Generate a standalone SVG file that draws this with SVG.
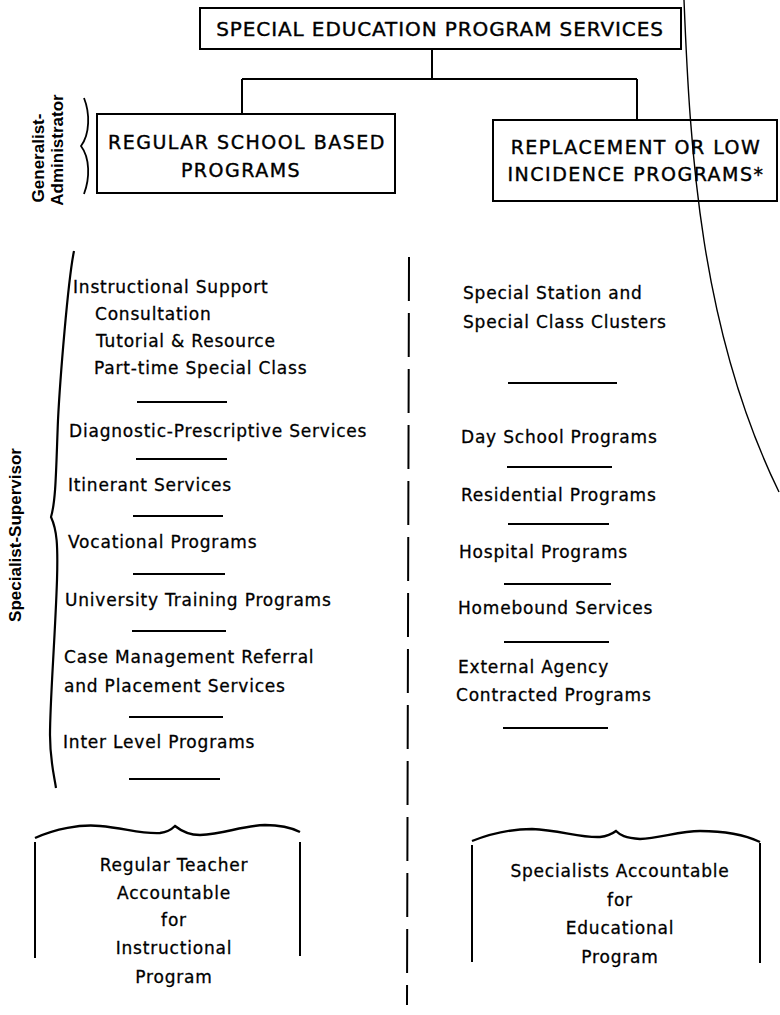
<svg xmlns="http://www.w3.org/2000/svg" width="780" height="1015" viewBox="0 0 780 1015">
<style>
.box{fill:none;stroke:#000;stroke-width:2}
.ln{fill:none;stroke:#000;stroke-width:2}
.hd{font-family:"DejaVu Sans","Liberation Sans",sans-serif;font-size:19px;letter-spacing:1.5px;fill:#000;stroke:#000;stroke-width:0.4}
.tx{font-family:"DejaVu Sans","Liberation Sans",sans-serif;font-size:17px;letter-spacing:0.8px;fill:#000;stroke:#000;stroke-width:0.3}
.mid{text-anchor:middle}
.lab{font-family:"Liberation Sans",sans-serif;font-weight:bold;font-size:17px;fill:#000;text-anchor:middle}
.sep{stroke:#000;stroke-width:2}
</style>
<rect width="780" height="1015" fill="#fff"/>

<g id="connectors">
  <path class="ln" d="M432 49 V79 M242 79 H637 M242 79 V114 M637 79 V120"/>
  <path class="ln" d="M409 257 L407 1005" stroke-dasharray="44 12" stroke-width="2.4"/>
  <path fill="none" stroke="#000" stroke-width="1.4" d="M684 0 C690 150 700 330 779 492"/>
</g>

<g id="top">
  <rect class="box" x="200" y="8" width="481" height="41"/>
  <text class="hd mid" x="440" y="36" style="font-size:20px;letter-spacing:0.9px">SPECIAL EDUCATION PROGRAM SERVICES</text>
</g>

<g id="regular">
  <rect class="box" x="97" y="114" width="298" height="79"/>
  <text class="hd mid" x="247" y="149">REGULAR SCHOOL BASED</text>
  <text class="hd mid" x="241" y="177">PROGRAMS</text>
</g>

<g id="replacement">
  <rect class="box" x="493" y="120" width="284" height="81"/>
  <text class="hd mid" x="636" y="154">REPLACEMENT OR LOW</text>
  <text class="hd mid" x="636" y="181">INCIDENCE PROGRAMS*</text>
</g>

<g id="labels">
  <text class="lab" transform="translate(44 158) rotate(-90)">Generalist-</text>
  <text class="lab" transform="translate(63 150) rotate(-90)">Administrator</text>
  <path fill="none" stroke="#000" stroke-width="1.8" d="M84 98 C90 113 90 134 81 146 C90 158 90 178 84 194"/>
  <text class="lab" transform="translate(21 535) rotate(-90)">Specialist-Supervisor</text>
  <path fill="none" stroke="#000" stroke-width="2.2" d="M74 251 C68 280 60 380 58 420 C56 470 56 500 51 517 C57 530 58 545 57 580 C55 640 50 700 50 735 C50 760 54 775 56 788"/>
</g>

<g id="regular-services">
  <text class="tx" x="73" y="293">Instructional Support</text>
  <text class="tx" x="95" y="320">Consultation</text>
  <text class="tx" x="96" y="347">Tutorial &amp; Resource</text>
  <text class="tx" x="94" y="374">Part-time Special Class</text>
  <line class="sep" x1="137" y1="402" x2="227" y2="402"/>
  <text class="tx" x="69" y="437">Diagnostic-Prescriptive Services</text>
  <line class="sep" x1="136" y1="459" x2="227" y2="459"/>
  <text class="tx" x="68" y="491">Itinerant Services</text>
  <line class="sep" x1="133" y1="516" x2="223" y2="516"/>
  <text class="tx" x="68" y="548">Vocational Programs</text>
  <line class="sep" x1="133" y1="574" x2="225" y2="574"/>
  <text class="tx" x="65" y="606">University Training Programs</text>
  <line class="sep" x1="132" y1="631" x2="226" y2="631"/>
  <text class="tx" x="64" y="663">Case Management Referral</text>
  <text class="tx" x="64" y="692">and Placement Services</text>
  <line class="sep" x1="129" y1="717" x2="223" y2="717"/>
  <text class="tx" x="63" y="748">Inter Level Programs</text>
  <line class="sep" x1="129" y1="779" x2="220" y2="779"/>
</g>

<g id="replacement-services">
  <text class="tx" x="463" y="299">Special Station and</text>
  <text class="tx" x="463" y="328">Special Class Clusters</text>
  <line class="sep" x1="508" y1="383" x2="617" y2="383"/>
  <text class="tx" x="461" y="443">Day School Programs</text>
  <line class="sep" x1="507" y1="467" x2="612" y2="467"/>
  <text class="tx" x="461" y="501">Residential Programs</text>
  <line class="sep" x1="508" y1="524" x2="609" y2="524"/>
  <text class="tx" x="459" y="558">Hospital Programs</text>
  <line class="sep" x1="504" y1="584" x2="611" y2="584"/>
  <text class="tx" x="458" y="614">Homebound Services</text>
  <line class="sep" x1="504" y1="642" x2="609" y2="642"/>
  <text class="tx" x="458" y="673">External Agency</text>
  <text class="tx" x="456" y="701">Contracted Programs</text>
  <line class="sep" x1="503" y1="728" x2="608" y2="728"/>
</g>

<g id="teacher-accountable">
  <path fill="none" stroke="#000" stroke-width="2.4" d="M35 838 C55 829 80 824 100 826 C125 828 140 834 160 833 C168 832 172 829 175 826 C180 830 188 835 200 835 C225 834 240 826 265 825 C280 825 292 828 300 832"/>
  <path class="ln" d="M35 842 V958 M300 842 V956"/>
  <text class="tx mid" x="174" y="871">Regular Teacher</text>
  <text class="tx mid" x="174" y="899">Accountable</text>
  <text class="tx mid" x="174" y="926">for</text>
  <text class="tx mid" x="174" y="954">Instructional</text>
  <text class="tx mid" x="174" y="983">Program</text>
</g>

<g id="specialists-accountable">
  <path fill="none" stroke="#000" stroke-width="2.4" d="M472 841 C495 832 515 829 532 829 C560 830 580 838 600 837 C608 836 612 834 616 831 C620 835 625 838 640 839 C660 838 680 831 700 831 C725 831 745 835 760 842"/>
  <path class="ln" d="M472 845 V962 M760 843 V963"/>
  <text class="tx mid" x="620" y="877">Specialists Accountable</text>
  <text class="tx mid" x="620" y="906">for</text>
  <text class="tx mid" x="620" y="934">Educational</text>
  <text class="tx mid" x="620" y="963">Program</text>
</g>
</svg>
